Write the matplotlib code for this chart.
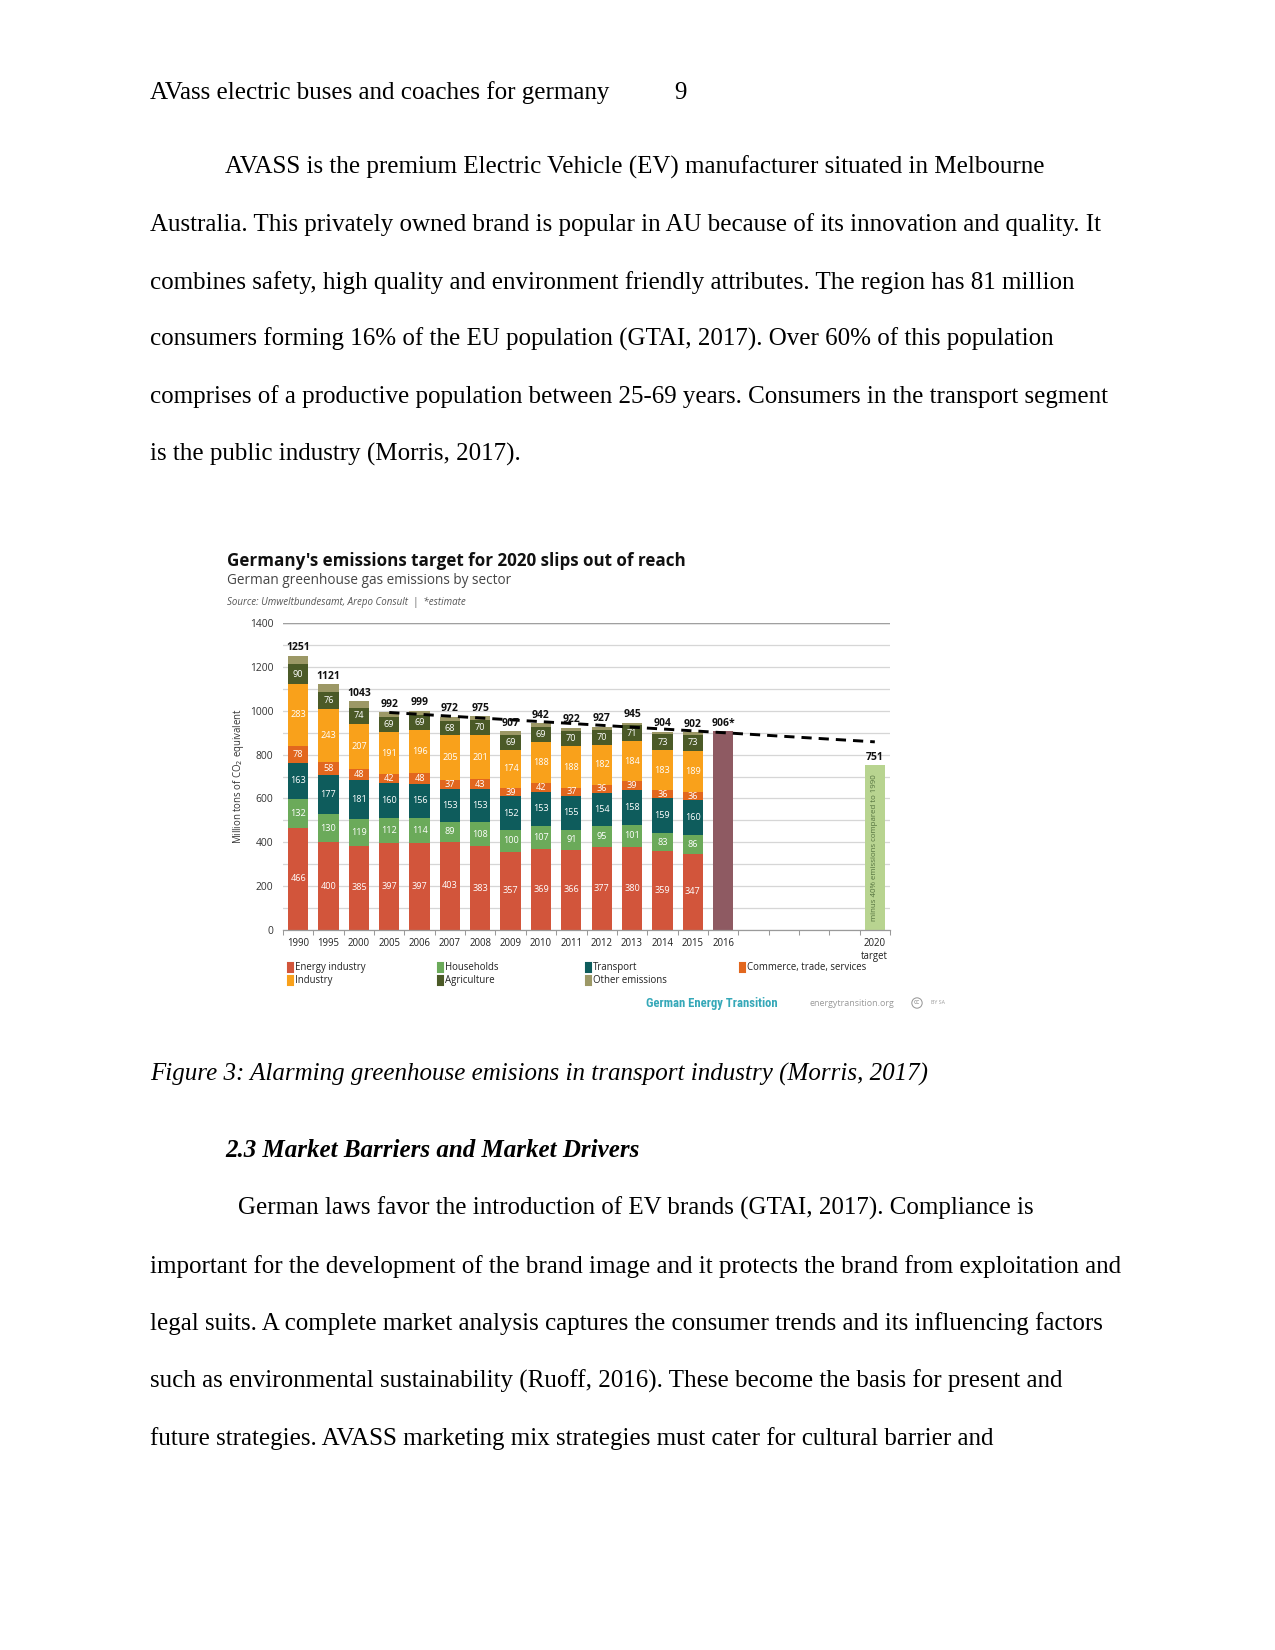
import numpy as np
import matplotlib
matplotlib.use('Agg')
import matplotlib.pyplot as plt
from matplotlib.patches import Rectangle
from matplotlib import font_manager

W, H, DPI = 1275, 1650, 150

# ---------------- data ----------------
years = ['1990', '1995', '2000', '2005', '2006', '2007', '2008', '2009',
         '2010', '2011', '2012', '2013', '2014', '2015']
energy = [466, 400, 385, 397, 397, 403, 383, 357, 369, 366, 377, 380, 359, 347]
households = [132, 130, 119, 112, 114, 89, 108, 100, 107, 91, 95, 101, 83, 86]
transport = [163, 177, 181, 160, 156, 153, 153, 152, 153, 155, 154, 158, 159, 160]
commerce = [78, 58, 48, 42, 48, 37, 43, 39, 42, 37, 36, 39, 36, 36]
industry = [283, 243, 207, 191, 196, 205, 201, 174, 188, 188, 182, 184, 183, 189]
agriculture = [90, 76, 74, 69, 69, 68, 70, 69, 69, 70, 70, 71, 73, 73]
other = [39, 37, 29, 21, 19, 17, 17, 16, 14, 15, 13, 12, 11, 11]
totals = [1251, 1121, 1043, 992, 999, 972, 975, 907, 942, 922, 927, 945, 904, 902]

estimate_year = '2016'
estimate_total = 906
target_year = '2020'
target_total = 751
target_note = 'minus 40% emissions compared to 1990'

trend_years = ['2005', '2020']
trend_values = [992, 858]

sector_names = ['Energy industry', 'Households', 'Transport',
                'Commerce, trade, services', 'Industry', 'Agriculture',
                'Other emissions']
sector_colors = ['#D2553B', '#6BAA5A', '#0E5C5C', '#E2671E', '#F9A11B',
                 '#4B5A27', '#9C9866']
estimate_color = '#8E5A62'
target_color = '#B8D490'

slot_labels = years + [estimate_year, '', '', '', '', target_year + '\ntarget']

# ---------------- page ----------------
fig = plt.figure(figsize=(W / DPI, H / DPI), dpi=DPI)
fig.patch.set_facecolor('white')


def fx(px):
    return px / W


def fy(py):
    return 1 - py / H


def has_font(name):
    try:
        font_manager.findfont(font_manager.FontProperties(family=name),
                              fallback_to_default=False)
        return True
    except Exception:
        return False


SERIF = 'Liberation Serif'
CHART = 'Open Sans'
NARROW = next((f for f in ['Liberation Sans Narrow', 'Roboto Condensed',
                           'DejaVu Sans'] if has_font(f)), 'DejaVu Sans')


def ptext(x, y, s, **kw):
    kw.setdefault('family', SERIF)
    kw.setdefault('fontsize', 12)
    kw.setdefault('color', 'black')
    return fig.text(fx(x), fy(y), s, va='baseline', ha='left', **kw)


ptext(150, 99, 'AVass electric buses and coaches for germany')
ptext(674, 99, '9')

p1 = ['AVASS is the premium Electric Vehicle (EV) manufacturer situated in Melbourne',
      'Australia. This privately owned brand is popular in AU because of its innovation and quality. It',
      'combines safety, high quality and environment friendly attributes. The region has 81 million',
      'consumers forming 16% of the EU population (GTAI, 2017). Over 60% of this population',
      'comprises of a productive population between 25-69 years. Consumers in the transport segment',
      'is the public industry (Morris, 2017).']
for i, line in enumerate(p1):
    ptext(225 if i == 0 else 150, 173.5 + 57.5 * i, line)

ptext(150, 1081, 'Figure 3: Alarming greenhouse emisions in transport industry (Morris, 2017)',
      style='italic')
ptext(225, 1157, '2.3 Market Barriers and Market Drivers', style='italic', weight='bold')

p2 = ['German laws favor the introduction of EV brands (GTAI, 2017). Compliance is',
      'important for the development of the brand image and it protects the brand from exploitation and',
      'legal suits. A complete market analysis captures the consumer trends and its influencing factors',
      'such as environmental sustainability (Ruoff, 2016). These become the basis for present and',
      'future strategies. AVASS marketing mix strategies must cater for cultural barrier and']
for i, line in enumerate(p2):
    ptext(238 if i == 0 else 150, 1215 + 57.5 * i, line)

# ---------------- chart ----------------
renderer = fig.canvas.get_renderer()


def fit(t, target_w, vertical=False):
    bb = t.get_window_extent(renderer)
    cur = bb.height if vertical else bb.width
    t.set_fontsize(t.get_fontsize() * target_w / cur)
    return t


t = fig.text(fx(227), fy(566.5), "Germany's emissions target for 2020 slips out of reach",
             family=CHART, weight='bold', fontsize=8, color='#111111', va='baseline')
fit(t, 460)
t = fig.text(fx(227), fy(584), 'German greenhouse gas emissions by sector',
             family=CHART, fontsize=6, color='#444444', va='baseline')
fit(t, 288)
t = fig.text(fx(227), fy(604.5), 'Source: Umweltbundesamt, Arepo Consult  |  *estimate',
             family=CHART, style='italic', fontsize=4.2, color='#555555', va='baseline')
fit(t, 238)

ax = fig.add_axes([fx(283), fy(930), (890 - 283) / W, (930 - 623) / H])
ax.set_xlim(-0.5, 19.5)
ax.set_ylim(0, 1400)

x = np.arange(len(years))
bw = 0.67
stack = [energy, households, transport, commerce, industry, agriculture, other]
bottom = np.zeros(len(years))
for k, (vals, col) in enumerate(zip(stack, sector_colors)):
    vals = np.array(vals, dtype=float)
    ax.bar(x, vals, bw, bottom=bottom, color=col, zorder=2, linewidth=0)
    if k < 6:
        for xi, b, v in zip(x, bottom, vals):
            ax.text(xi, b + v / 2, f'{int(v)}', ha='center', va='center',
                    fontsize=4.4, color='white', family=CHART, zorder=3)
    bottom = bottom + vals

LBL = dict(ha='center', va='bottom', fontsize=5.0, weight='bold', family=CHART,
           color='#111111', zorder=6, textcoords='offset points', xytext=(0, 1.2))
for xi, tot in zip(x, totals):
    ax.annotate(f'{tot}', (xi, tot), **LBL)

xe = slot_labels.index(estimate_year)
ax.bar(xe, estimate_total, bw, color=estimate_color, zorder=2, linewidth=0)
ax.annotate(f'{estimate_total}*', (xe, estimate_total), **LBL)

xt = len(slot_labels) - 1
ax.bar(xt, target_total, bw, color=target_color, zorder=2, linewidth=0)
ax.annotate(f'{target_total}', (xt, target_total), **LBL)
tn = ax.text(xt, target_total / 2, target_note, rotation=90, ha='center', va='center',
             fontsize=4.3, color='#55733F', family=CHART, zorder=3)
fit(tn, 150, vertical=True)

tx = [slot_labels.index(trend_years[0]), xt]
ax.plot(tx, trend_values, color='black', lw=1.4, dashes=(3.5, 2.4), zorder=5,
        dash_capstyle='butt')

ax.set_yticks(np.arange(0, 1401, 200))
ax.set_yticklabels([str(v) for v in range(0, 1401, 200)])
ax.set_yticks(np.arange(0, 1401, 100), minor=True)
ax.grid(axis='y', which='both', color='#D6D6D6', lw=0.6, zorder=0)
ax.set_axisbelow(True)
ax.axhline(1400, color='#A0A0A0', lw=0.7, zorder=1)
ax.tick_params(axis='y', which='both', length=0, pad=4.5, labelsize=4.9,
               labelcolor='#333333')
for lab in ax.get_yticklabels():
    lab.set_family(CHART)

ax.set_xticks(np.arange(len(slot_labels)))
ax.set_xticklabels(slot_labels, linespacing=1.25)
ax.set_xticks(np.arange(-0.5, len(slot_labels), 1), minor=True)
ax.tick_params(axis='x', which='major', length=0, pad=4, labelsize=4.6,
               labelcolor='#222222')
ax.tick_params(axis='x', which='minor', length=2.5, width=0.5, color='#999999')
for lab in ax.get_xticklabels():
    lab.set_family(CHART)

for s in ['left', 'right', 'top']:
    ax.spines[s].set_visible(False)
ax.spines['bottom'].set_color('#9A9A9A')
ax.spines['bottom'].set_linewidth(0.6)

fig.text(fx(238), fy(776), 'Million tons of CO$_2$ equivalent', rotation=90,
         fontsize=4.6, family=CHART, color='#333333', ha='center', va='center')

# legend (manual)
legend_layout = [  # (sector index, x marker, y center)
    (0, 290, 967.5), (4, 290, 980.5),
    (1, 440, 967.5), (5, 440, 980.5),
    (2, 588, 967.5), (6, 588, 980.5),
    (3, 742, 967.5),
]
for k, mx, my in legend_layout:
    fig.patches.append(Rectangle((fx(mx - 2.5), fy(my + 4.5)), 5 / W, 9 / H,
                                 transform=fig.transFigure, color=sector_colors[k],
                                 zorder=3))
    fig.text(fx(mx + 5), fy(my), sector_names[k], family=CHART, fontsize=4.6,
             color='#222222', va='center', ha='left')

# footer
t = fig.text(fx(646), fy(1003), 'German Energy Transition', family=NARROW,
             weight='bold', fontsize=6.5, color='#35A8B8', va='center')
fit(t, 131)
t = fig.text(fx(809), fy(1003), 'energytransition.org', family=CHART, fontsize=3.5,
             color='#9A9A9A', va='center')
fit(t, 84)
fig.text(fx(917), fy(1003), 'cc', family=CHART, fontsize=3.2, color='#888888',
         ha='center', va='center',
         bbox=dict(boxstyle='circle,pad=0.25', fc='white', ec='#999999', lw=0.5))
fig.text(fx(931), fy(1003), 'BY SA', family=CHART, fontsize=2.5, color='#999999',
         ha='left', va='center')

fig.savefig('out.png', dpi=DPI, facecolor='white')
